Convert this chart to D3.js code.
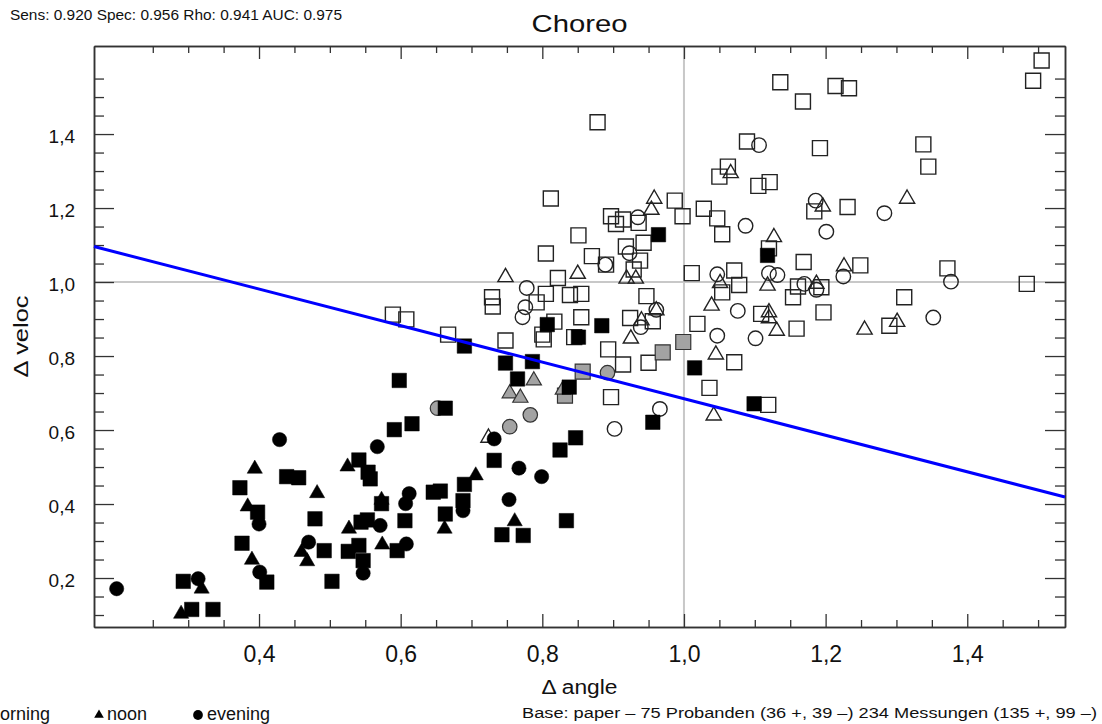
<!doctype html>
<html>
<head>
    <title> Choreo </title>
    <script src="https://d3js.org/d3.v7.min.js"></script>
    <style>
        body { margin: 0; background: white; }
        text { font-family: "Liberation Sans", "DejaVu Sans", sans-serif; fill: #111; }
    </style>
</head>
<body>
<div id="chart"></div>
<script>

// Data

// morning = squares, noon = triangles, evening = circles
// open = outline only, filled = black, gray = gray fill
const morningOpen = [
    [1.505,1.599],[1.493,1.544],[1.136,1.540],[1.214,1.530],[1.233,1.524],[1.168,1.488],[1.089,1.380],
    [1.192,1.362],[1.338,1.372],[1.345,1.312],[1.062,1.312],[1.050,1.285],[1.121,1.270],[1.105,1.260],
    [1.231,1.203],[1.184,1.191],[1.028,1.198],[1.047,1.172],[1.054,1.129],[1.120,1.091],[1.011,1.024],
    [1.071,1.031],[1.169,1.054],[1.249,1.045],[1.372,1.037],[1.484,0.995],[1.078,0.992],[1.054,0.972],
    [1.161,0.988],[1.194,0.986],[1.154,0.959],[1.311,0.959],[1.197,0.918],[1.109,0.914],[1.019,0.887],
    [1.159,0.874],[1.290,0.882],[0.878,1.432],[0.812,1.226],[0.987,1.220],[0.998,1.178],[0.897,1.178],
    [0.914,1.169],[0.904,1.157],[0.936,1.160],[0.851,1.126],[0.943,1.106],[0.918,1.096],[0.805,1.077],
    [0.870,1.070],[0.890,1.047],[0.938,1.058],[0.929,1.034],[0.822,1.011],[0.729,0.959],[0.730,0.934],
    [0.805,0.968],[0.792,0.945],[0.839,0.965],[0.855,0.968],[0.947,0.962],[0.589,0.912],[0.608,0.899],
    [0.855,0.905],[0.924,0.903],[0.817,0.893],[0.956,0.894],[0.800,0.858],[0.802,0.845],[0.845,0.851],
    [0.667,0.858],[0.748,0.842],[0.893,0.818],[0.914,0.777],[0.950,0.782],[1.071,0.783],[1.036,0.714],
    [0.897,0.689],[1.119,0.668]
];
const morningFilled = [
    [1.118,1.072],[0.964,1.128],[0.807,0.885],[0.884,0.882],[0.851,0.851],[0.690,0.827],[0.748,0.781],
    [0.786,0.785],[1.015,0.768],[0.765,0.738],[0.838,0.716],[1.099,0.671],[0.956,0.621],[0.663,0.659],
    [0.847,0.579],[0.825,0.546],[0.732,0.518],[0.690,0.453],[0.656,0.435],[0.646,0.432],[0.663,0.373],
    [0.834,0.355],[0.743,0.317],[0.773,0.315],[0.688,0.409],[0.598,0.734],[0.616,0.617],[0.591,0.601],
    [0.541,0.519],[0.554,0.486],[0.557,0.468],[0.439,0.474],[0.456,0.471],[0.373,0.444],[0.398,0.378],
    [0.573,0.401],[0.479,0.360],[0.606,0.355],[0.544,0.351],[0.553,0.357],[0.376,0.294],[0.492,0.274],
    [0.526,0.272],[0.541,0.288],[0.547,0.247],[0.595,0.274],[0.411,0.189],[0.503,0.191],[0.293,0.191],
    [0.305,0.115],[0.335,0.115]
];
const morningGray = [[0.970,0.810],[0.999,0.838],[0.857,0.758],[0.832,0.693]];

const noonOpen = [
    [1.066,1.294],[1.315,1.225],[1.196,1.204],[1.127,1.121],[1.226,1.042],[1.051,0.997],[1.118,0.990],
    [1.187,0.995],[1.039,0.936],[1.120,0.918],[1.120,0.902],[1.131,0.868],[1.255,0.871],[1.301,0.892],
    [0.958,1.225],[0.954,1.195],[0.748,1.013],[0.850,1.022],[0.919,1.009],[0.932,1.009],[0.961,0.923],
    [0.940,0.896],[0.925,0.847],[1.045,0.804],[1.042,0.639],[0.724,0.579]
];
const noonFilled = [
    [0.706,0.477],[0.761,0.353],[0.662,0.333],[0.394,0.495],[0.525,0.501],[0.482,0.429],[0.384,0.393],
    [0.573,0.411],[0.527,0.333],[0.460,0.270],[0.468,0.245],[0.390,0.249],[0.574,0.290],[0.319,0.171],
    [0.290,0.103]
];
const noonGray = [[0.788,0.734],[0.754,0.699],[0.769,0.687],[0.829,0.709]];

const eveningOpen = [
    [1.106,1.370],[1.186,1.220],[1.283,1.186],[1.087,1.152],[1.201,1.136],[1.047,1.021],[1.120,1.024],
    [1.132,1.019],[1.225,1.015],[1.377,1.001],[1.170,0.995],[1.187,0.979],[1.076,0.922],[1.352,0.904],
    [1.047,0.855],[1.101,0.848],[0.935,1.175],[0.923,1.078],[0.889,1.047],[0.778,0.984],[0.776,0.932],
    [0.772,0.905],[0.961,0.925],[0.939,0.878],[0.966,0.657],[0.902,0.603]
];
const eveningFilled = [
    [0.732,0.576],[0.767,0.497],[0.799,0.474],[0.753,0.412],[0.688,0.382],[0.429,0.574],[0.567,0.555],
    [0.612,0.428],[0.607,0.401],[0.400,0.346],[0.571,0.342],[0.470,0.297],[0.608,0.292],[0.401,0.216],
    [0.547,0.213],[0.314,0.198],[0.199,0.171]
];
const eveningGray = [[0.892,0.755],[0.783,0.641],[0.754,0.609],[0.652,0.659]];

// regression line end points
const fitLine = [[0.167,1.096],[1.538,0.419]];

const xMajorTicks = [0.4, 0.6, 0.8, 1.0, 1.2, 1.4];
const yMajorTicks = [0.2, 0.4, 0.6, 0.8, 1.0, 1.2, 1.4];

const titleText = "Choreo";
const statsText = "Sens: 0.920   Spec: 0.956   Rho: 0.941   AUC: 0.975";
const baseText = "Base: paper \u2013 75 Probanden (36 +, 39 \u2013)  234 Messungen (135 +, 99 \u2013)";
const xTitle = "\u0394 angle";
const yTitle = "\u0394 veloc";

// Setup

const width = 1102;
const height = 724;
const plotLeft = 94, plotRight = 1065, plotTop = 46, plotBottom = 627;

var x = d3.scaleLinear().domain([0.167, 1.538]).range([plotLeft, plotRight]);
var y = d3.scaleLinear().domain([0.0676, 1.638]).range([plotBottom, plotTop]);

var svg = d3.select("#chart")
    .append("svg")
    .attr("width", width)
    .attr("height", height)
    .style("background", "white");

var xMinor = d3.range(0.25, 1.5001, 0.05).filter(function(d){ return xMajorTicks.every(function(m){ return Math.abs(m-d) > 0.001; }); });
var yMinor = d3.range(0.10, 1.5501, 0.05).filter(function(d){ return yMajorTicks.every(function(m){ return Math.abs(m-d) > 0.001; }); });

function comma(d){ return d3.format(".1f")(d).replace(".", ","); }

// grid lines at 1.0
svg.append("line")
    .attr("x1", x(1.0)).attr("x2", x(1.0))
    .attr("y1", plotTop).attr("y2", plotBottom)
    .attr("stroke", "#c8c8c8").attr("stroke-width", 2);
svg.append("line")
    .attr("x1", plotLeft).attr("x2", plotRight)
    .attr("y1", y(1.0)).attr("y2", y(1.0))
    .attr("stroke", "#c8c8c8").attr("stroke-width", 2);

// Axes

function styleAxis(g){
    g.selectAll("path").attr("stroke", "#333").attr("stroke-width", 1.5);
    g.selectAll("line").attr("stroke", "#333").attr("stroke-width", 1.3);
    g.selectAll("text").attr("fill", "#111")
        .style("font-family", "'Liberation Sans', sans-serif");
}

svg.append("g").attr("transform", "translate(0," + plotBottom + ")")
    .call(d3.axisBottom(x).tickValues(xMajorTicks).tickSizeInner(-13).tickSizeOuter(0).tickPadding(19).tickFormat(comma))
    .call(styleAxis)
    .selectAll("text").style("font-size", "23px");
svg.append("g").attr("transform", "translate(0," + plotBottom + ")")
    .call(d3.axisBottom(x).tickValues(xMinor).tickSizeInner(-7).tickSizeOuter(0).tickFormat(""))
    .call(styleAxis);
svg.append("g").attr("transform", "translate(0," + plotTop + ")")
    .call(d3.axisTop(x).tickValues(xMajorTicks).tickSizeInner(-13).tickSizeOuter(0).tickFormat(""))
    .call(styleAxis);
svg.append("g").attr("transform", "translate(0," + plotTop + ")")
    .call(d3.axisTop(x).tickValues(xMinor).tickSizeInner(-7).tickSizeOuter(0).tickFormat(""))
    .call(styleAxis);

svg.append("g").attr("transform", "translate(" + plotLeft + ",0)")
    .call(d3.axisLeft(y).tickValues(yMajorTicks).tickSizeInner(-20).tickSizeOuter(0).tickPadding(19).tickFormat(comma))
    .call(styleAxis)
    .selectAll("text").attr("dy", "0.42em").style("font-size", "19px");
svg.append("g").attr("transform", "translate(" + plotLeft + ",0)")
    .call(d3.axisLeft(y).tickValues(yMinor).tickSizeInner(-10).tickSizeOuter(0).tickFormat(""))
    .call(styleAxis);
svg.append("g").attr("transform", "translate(" + plotRight + ",0)")
    .call(d3.axisRight(y).tickValues(yMajorTicks).tickSizeInner(-20).tickSizeOuter(0).tickFormat(""))
    .call(styleAxis);
svg.append("g").attr("transform", "translate(" + plotRight + ",0)")
    .call(d3.axisRight(y).tickValues(yMinor).tickSizeInner(-10).tickSizeOuter(0).tickFormat(""))
    .call(styleAxis);

// Points

var series = [
    {data: morningOpen,   type: d3.symbolSquare,   size: 225, fill: "none",    stroke: "#222", sw: 1.4},
    {data: noonOpen,      type: d3.symbolTriangle, size: 100, fill: "none",    stroke: "#222", sw: 1.4},
    {data: eveningOpen,   type: d3.symbolCircle,   size: 165, fill: "none",    stroke: "#222", sw: 1.4},
    {data: morningGray,   type: d3.symbolSquare,   size: 225, fill: "#a3a3a3", stroke: "#333", sw: 1.2},
    {data: noonGray,      type: d3.symbolTriangle, size: 100, fill: "#a3a3a3", stroke: "#333", sw: 1.2},
    {data: eveningGray,   type: d3.symbolCircle,   size: 165, fill: "#a3a3a3", stroke: "#333", sw: 1.2},
    {data: morningFilled, type: d3.symbolSquare,   size: 210, fill: "#000",    stroke: "#000", sw: 0.5},
    {data: noonFilled,    type: d3.symbolTriangle, size: 100, fill: "#000",    stroke: "#000", sw: 0.5},
    {data: eveningFilled, type: d3.symbolCircle,   size: 160, fill: "#000",    stroke: "#000", sw: 0.5}
];

series.forEach(function(s){
    svg.append("g").selectAll("path")
        .data(s.data)
        .enter()
        .append("path")
            .attr("d", d3.symbol().type(s.type).size(s.size))
            .attr("transform", function(d){ return "translate(" + x(d[0]) + "," + y(d[1]) + ")"; })
            .attr("fill", s.fill)
            .attr("stroke", s.stroke)
            .attr("stroke-width", s.sw);
});

// fit line
svg.append("path")
    .datum(fitLine)
    .attr("d", d3.line().x(function(d){ return x(d[0]); }).y(function(d){ return y(d[1]); }))
    .attr("stroke", "#0000ff")
    .attr("stroke-width", 3)
    .attr("fill", "none");

// Texts

svg.append("text").attr("x", 10).attr("y", 20)
    .attr("textLength", 332).attr("lengthAdjust", "spacingAndGlyphs")
    .style("font-size", "14px").text(statsText);

svg.append("text").attr("x", (plotLeft + plotRight) / 2).attr("y", 32)
    .attr("text-anchor", "middle")
    .attr("textLength", 96).attr("lengthAdjust", "spacingAndGlyphs")
    .style("font-size", "24px").text(titleText);

svg.append("text").attr("x", (plotLeft + plotRight) / 2).attr("y", 694)
    .attr("text-anchor", "middle")
    .attr("textLength", 76).attr("lengthAdjust", "spacingAndGlyphs")
    .style("font-size", "20px").text(xTitle);

svg.append("text")
    .attr("transform", "translate(28," + ((plotTop + plotBottom) / 2) + ") rotate(-90)")
    .attr("text-anchor", "middle")
    .attr("textLength", 82).attr("lengthAdjust", "spacingAndGlyphs")
    .style("font-size", "20px").text(yTitle);

svg.append("text").attr("x", 522).attr("y", 718)
    .attr("textLength", 575).attr("lengthAdjust", "spacingAndGlyphs")
    .style("font-size", "14px").text(baseText);

// legend (the first entry runs off the left edge, as in the original)
var legend = [
    {label: "morning", type: d3.symbolSquare,   size: 70, sx: -22, tx: -15},
    {label: "noon",    type: d3.symbolTriangle, size: 40, sx: 99,  tx: 107},
    {label: "evening", type: d3.symbolCircle,   size: 75, sx: 198, tx: 207}
];
legend.forEach(function(l){
    svg.append("path")
        .attr("d", d3.symbol().type(l.type).size(l.size))
        .attr("transform", "translate(" + l.sx + ",715)")
        .attr("fill", "#000");
    svg.append("text").attr("x", l.tx).attr("y", 720)
        .style("font-size", "18px").text(l.label);
});

</script>
</body>
</html>
